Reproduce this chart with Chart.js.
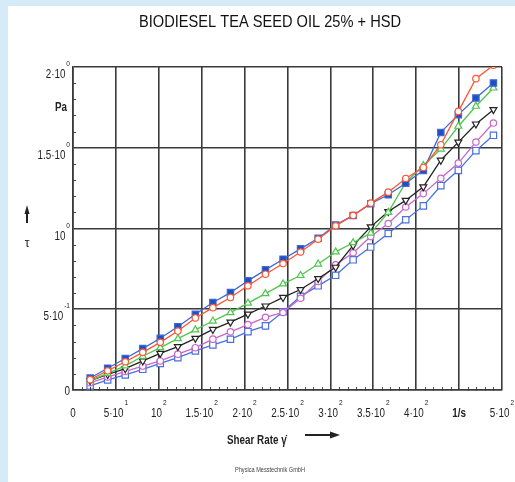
<!DOCTYPE html>
<html>
<head>
<meta charset="utf-8">
<title>Biodiesel tea seed oil 25% + HSD</title>
<script src="https://cdn.jsdelivr.net/npm/chart.js@4/dist/chart.umd.min.js"></script>
<style>
  html, body { margin: 0; padding: 0; background: #d5ebf8; }
  canvas { display: block; }
</style>
</head>
<body>
<canvas id="flowCurve" width="515" height="482"></canvas>
<script>
// Shear rate (1/s) of each measuring point
const shearRate = [20, 40.4, 60.9, 81.3, 101.7, 122.2, 142.6, 163.0, 183.5, 203.9, 224.3, 244.8,
                   265.2, 285.7, 306.1, 326.5, 347.0, 367.4, 387.8, 408.3, 428.7, 449.1, 469.6, 490.0];

// Shear stress (Pa), one array per curve
const stressBlueFilled = [0.074, 0.135, 0.195, 0.256, 0.320, 0.392, 0.469, 0.542, 0.603, 0.676, 0.744, 0.810,
                          0.874, 0.940, 1.021, 1.081, 1.153, 1.209, 1.280, 1.360, 1.595, 1.705, 1.808, 1.901];
const stressOrange     = [0.064, 0.119, 0.175, 0.233, 0.295, 0.365, 0.446, 0.510, 0.573, 0.645, 0.717, 0.783,
                          0.854, 0.934, 1.017, 1.081, 1.157, 1.225, 1.310, 1.378, 1.519, 1.725, 1.928, 2.011];
const stressGreen      = [0.058, 0.103, 0.149, 0.209, 0.262, 0.318, 0.372, 0.427, 0.479, 0.538, 0.597, 0.657,
                          0.709, 0.780, 0.855, 0.912, 0.971, 1.100, 1.285, 1.390, 1.492, 1.633, 1.757, 1.870];
const stressBlack      = [0.058, 0.096, 0.132, 0.180, 0.227, 0.269, 0.320, 0.375, 0.420, 0.470, 0.520, 0.573,
                          0.622, 0.690, 0.760, 0.895, 1.010, 1.105, 1.174, 1.258, 1.423, 1.535, 1.647, 1.736];
const stressMagenta    = [0.045, 0.080, 0.115, 0.148, 0.180, 0.222, 0.262, 0.315, 0.360, 0.405, 0.450, 0.480,
                          0.568, 0.672, 0.775, 0.850, 0.950, 1.031, 1.133, 1.216, 1.311, 1.405, 1.535, 1.653];
const stressBlueOpen   = [0.025, 0.062, 0.093, 0.128, 0.165, 0.200, 0.242, 0.279, 0.314, 0.361, 0.397, 0.485,
                          0.580, 0.645, 0.710, 0.806, 0.885, 0.969, 1.054, 1.140, 1.265, 1.360, 1.482, 1.577];

// Axis labels (mantissa part + exponent written as superscript)
const xTickValues = [0, 50, 100, 150, 200, 250, 300, 350, 400, 450, 500];
const xTickBase   = ['0', '5·10', '10', '1.5·10', '2·10', '2.5·10', '3·10', '3.5·10', '4·10', '1/s', '5·10'];
const xTickExp    = ['', '1', '2', '2', '2', '2', '2', '2', '2', '', '2'];
const yTickValues = [0, 0.5, 1, 1.5, 2];
const yTickBase   = ['0', '5·10', '10', '1.5·10', '2·10'];
const yTickExp    = ['', '-1', '0', '0', '0'];

const FONT = "'Liberation Sans', Arial, sans-serif";
const NARROW = 0.82;   // the original labels are set in a condensed face

function toPoints(values) {
    return shearRate.map((x, i) => ({ x: x, y: values[i] }));
}

function series(values, color, style, fill, radius, rotation) {
    return {
        data: toPoints(values),
        showLine: true,
        borderColor: color,
        borderWidth: 1.3,
        pointStyle: style,
        pointRotation: rotation || 0,
        pointRadius: radius,
        pointBorderWidth: 1.2,
        pointBorderColor: color,
        pointBackgroundColor: fill,
        tension: 0
    };
}

// narrow text helper
function text(ctx, str, x, y, font, align, squeeze) {
    ctx.save();
    ctx.font = font;
    const s = squeeze || NARROW;
    const w = ctx.measureText(str).width * s;
    let left = x;
    if (align === 'center') left = x - w / 2;
    if (align === 'right') left = x - w;
    ctx.translate(left, y);
    ctx.scale(s, 1);
    ctx.textAlign = 'left';
    ctx.fillText(str, 0, 0);
    ctx.restore();
    return w;
}

function width(ctx, str, font) {
    ctx.save();
    ctx.font = font;
    const w = ctx.measureText(str).width * NARROW;
    ctx.restore();
    return w;
}

// base + superscript, positioned by center or right edge
function supLabel(ctx, base, exp, x, y, align, bold) {
    const fb = (bold ? 'bold ' : '') + '12px ' + FONT;
    const fe = '8px ' + FONT;
    const wb = width(ctx, base, fb);
    const we = exp ? width(ctx, exp, fe) + 1 : 0;
    const total = wb + we;
    let left = align === 'right' ? x - total : x - total / 2;
    text(ctx, base, left, y, fb, 'left');
    if (exp) text(ctx, exp, left + wb + 1, y - 12, fe, 'left');
}

const decor = {
    id: 'decor',
    beforeDraw(chart) {
        const ctx = chart.ctx;
        ctx.save();
        ctx.fillStyle = '#d5ebf8';
        ctx.fillRect(0, 0, chart.width, chart.height);
        ctx.fillStyle = '#ffffff';
        ctx.fillRect(8, 6, chart.width - 8, chart.height - 6);
        ctx.restore();
    },
    afterDraw(chart) {
        const ctx = chart.ctx;
        const xs = chart.scales.x, ys = chart.scales.y;
        const area = chart.chartArea;
        ctx.save();
        ctx.fillStyle = '#222';
        ctx.strokeStyle = '#444';
        ctx.lineWidth = 1;

        // minor ticks
        ctx.beginPath();
        for (let v = 10; v < 500; v += 10) {
            if (v % 50 === 0) continue;
            const px = Math.round(xs.getPixelForValue(v)) + 0.5;
            ctx.moveTo(px, area.bottom - 3);
            ctx.lineTo(px, area.bottom + 1);
        }
        for (let v = 0.1; v < 2; v += 0.1) {
            const r = Math.round(v * 10);
            if (r % 5 === 0) continue;
            const py = Math.round(ys.getPixelForValue(r / 10)) + 0.5;
            ctx.moveTo(area.left - 1, py);
            ctx.lineTo(area.left + 3, py);
        }
        ctx.stroke();

        // tick labels
        xTickValues.forEach((v, i) => {
            const px = xs.getPixelForValue(v);
            supLabel(ctx, xTickBase[i], xTickExp[i], px, 417, 'center', xTickBase[i] === '1/s');
        });
        yTickValues.forEach((v, i) => {
            const py = ys.getPixelForValue(v);
            if (v === 0) {
                text(ctx, '0', 70, py + 4.5, '12px ' + FONT, 'right');
            } else {
                supLabel(ctx, yTickBase[i], yTickExp[i], 70, py + 11, 'right');
            }
        });

        // title
        ctx.fillStyle = '#111';
        text(ctx, 'BIODIESEL TEA SEED OIL 25% + HSD', 270, 27, '17px ' + FONT, 'center', 0.86);

        // y axis name
        ctx.fillStyle = '#222';
        text(ctx, 'Pa', 55, 111, 'bold 12px ' + FONT, 'left');
        text(ctx, 'τ', 27, 247, '12px ' + FONT, 'center', 1);
        ctx.beginPath();
        ctx.moveTo(27, 205); ctx.lineTo(24.5, 214); ctx.lineTo(29.5, 214); ctx.closePath();
        ctx.fill();
        ctx.fillRect(26, 213, 2, 10);

        // x axis name
        text(ctx, 'Shear Rate γ̇', 227, 444, 'bold 12px ' + FONT, 'left');
        ctx.fillRect(305, 434, 26, 2);
        ctx.beginPath();
        ctx.moveTo(340, 435); ctx.lineTo(330, 431.5); ctx.lineTo(330, 438.5); ctx.closePath();
        ctx.fill();

        // footer
        ctx.fillStyle = '#444';
        text(ctx, 'Physica Messtechnik GmbH', 270, 472, '7px ' + FONT, 'center', 0.8);
        ctx.restore();
    }
};

const gridLine = { color: '#3a3a3a', lineWidth: 1.6, drawTicks: false };

new Chart(document.getElementById('flowCurve'), {
    type: 'scatter',
    data: {
        datasets: [
            series(stressOrange, '#ff5533', 'circle', '#ffffff', 3.2),
            series(stressBlueFilled, '#3f68d2', 'rect', '#1f4fc4', 4.5),
            series(stressGreen, '#4fc64f', 'triangle', '#ffffff', 4),
            series(stressBlack, '#222222', 'triangle', '#ffffff', 4, 180),
            series(stressMagenta, '#c966c9', 'circle', '#ffffff', 3.2),
            series(stressBlueOpen, '#4a6fe0', 'rect', '#ffffff', 4.5)
        ]
    },
    options: {
        responsive: false,
        devicePixelRatio: 1,
        animation: false,
        layout: { padding: { left: 73, right: 13, top: 67, bottom: 92 } },
        plugins: {
            legend: { display: false },
            tooltip: { enabled: false }
        },
        scales: {
            x: {
                type: 'linear',
                min: 0,
                max: 500,
                ticks: { stepSize: 50, display: false },
                grid: gridLine,
                border: { display: true, color: '#3a3a3a', width: 1.6 }
            },
            y: {
                type: 'linear',
                min: 0,
                max: 2,
                ticks: { stepSize: 0.5, display: false },
                grid: gridLine,
                border: { display: true, color: '#3a3a3a', width: 1.6 }
            }
        }
    },
    plugins: [decor]
});
</script>
</body>
</html>
